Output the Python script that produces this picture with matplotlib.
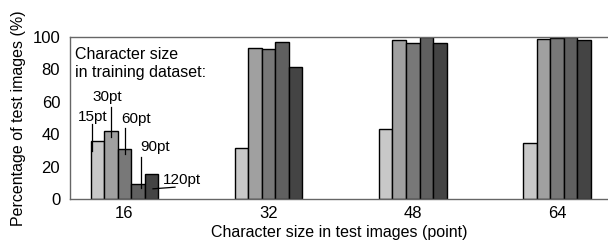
import matplotlib
matplotlib.use("Agg")
import matplotlib.pyplot as plt
import numpy as np

plt.rcParams["font.family"] = ["Liberation Sans", "DejaVu Sans"]

# test character size (point) on the x axis
test_sizes = ["16", "32", "48", "64"]
# character size used in the training dataset (one bar per size)
train_sizes = ["15pt", "30pt", "60pt", "90pt", "120pt"]
pct_15pt = [35.8, 31.7, 43.0, 34.4]
pct_30pt = [42.0, 93.4, 98.1, 98.5]
pct_60pt = [30.7, 92.6, 96.5, 99.2]
pct_90pt = [9.2, 96.9, 100.0, 100.0]
pct_120pt = [15.4, 81.5, 96.1, 98.4]
series = [pct_15pt, pct_30pt, pct_60pt, pct_90pt, pct_120pt]
colors = ["#c8c8c8", "#a0a0a0", "#787878", "#606060", "#444444"]

BAR_W = 0.094
FS = 11.5

fig = plt.figure(figsize=(6.08, 2.43), dpi=100)
ax = fig.add_axes([0.115, 0.181, 0.885, 0.667])

x = np.arange(len(test_sizes))
for i, (vals, col) in enumerate(zip(series, colors)):
    ax.bar(x + (i - 2) * BAR_W, vals, BAR_W, color=col,
           edgecolor="black", linewidth=1.0, zorder=2)

ax.set_xlim(-0.378, 3.0 + 0.354)
ax.set_ylim(0, 100)
ax.set_yticks([0, 20, 40, 60, 80, 100])
ax.set_xticks(x)
ax.set_xticklabels(test_sizes)
ax.tick_params(length=0, labelsize=12)
ax.tick_params(axis="y", pad=7)
ax.tick_params(axis="x", pad=5)

for side in ("left", "top", "bottom"):
    ax.spines[side].set_color("#666666")
    ax.spines[side].set_linewidth(1.0)
ax.spines["right"].set_visible(False)

ax.set_xlabel("Character size in test images (point)", fontsize=FS, labelpad=3)
ax.set_ylabel("Percentage of test images (%)", fontsize=FS, labelpad=5)

ax.text(0.009, 0.935, "Character size\nin training dataset:", transform=ax.transAxes,
        ha="left", va="top", fontsize=FS, linespacing=1.25)

# callout labels for the bars of the first group:
# (text x offset from bar centre, text y, line x offset, line y0, line y1)
callouts = [
    (-0.034, 50.6, -0.038, 46.3, 29.6),
    (-0.024, 63.0, 0.0, 56.8, 38.3),
    (0.083, 49.4, 0.004, 43.8, 27.8),
    (0.118, 32.0, 0.021, 25.9, 6.8),
]
for i, (tx, ty, lx, ly0, ly1) in enumerate(callouts):
    cx = x[0] + (i - 2) * BAR_W
    ax.text(cx + tx, ty, train_sizes[i], ha="center", va="center", fontsize=11)
    ax.plot([cx + lx, cx + lx], [ly0, ly1], color="black", lw=0.9, zorder=3)

cx = x[0] + 2 * BAR_W
ax.text(cx + 0.208, 11.7, train_sizes[4], ha="center", va="center", fontsize=11)
ax.plot([cx + 0.01, cx + 0.163], [6.3, 7.3], color="black", lw=0.9, zorder=3)

fig.savefig("out.png", dpi=100)
